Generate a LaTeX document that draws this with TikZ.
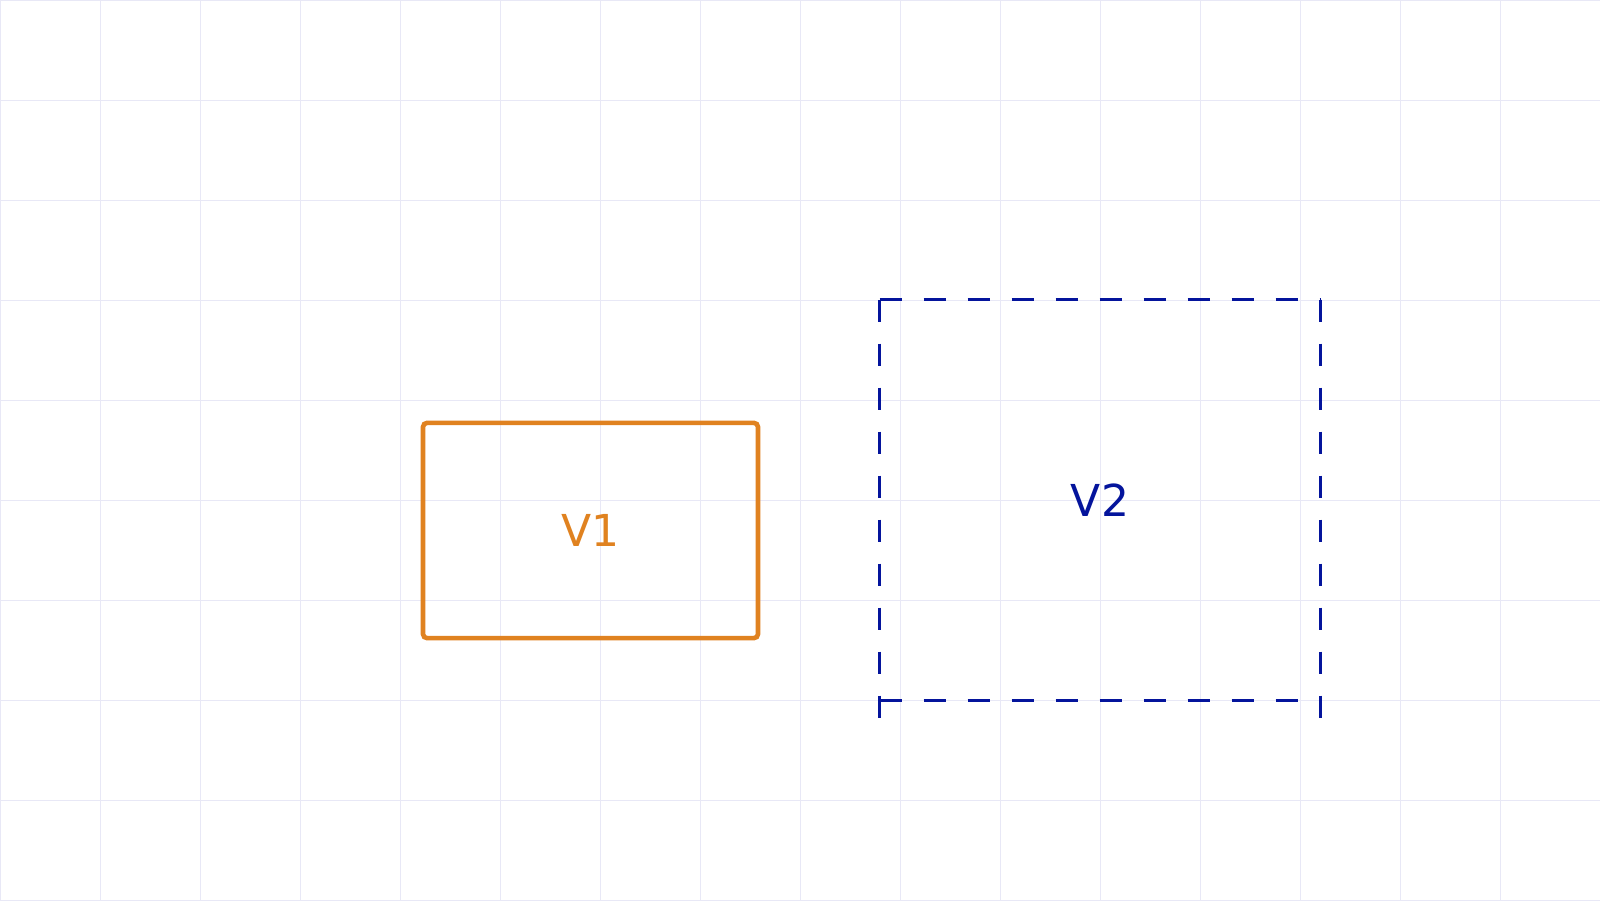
\documentclass[tikz,border=0pt]{standalone}
\usepackage{fontspec}
\setmainfont{DejaVu Sans}
\definecolor{gridc}{RGB}{232,232,246}
\definecolor{orng}{RGB}{224,130,32}
\definecolor{navy}{RGB}{4,20,156}
\begin{document}
\begin{tikzpicture}[x=0.5pt,y=-0.5pt,
  gridline/.style={draw=gridc,line width=0.5pt},
  solidbox/.style={draw=orng,line width=2.3pt,rounded corners=2pt,minimum width=167.5pt,minimum height=107.6pt,inner sep=0pt},
  ghostbox/.style={minimum width=220pt,minimum height=200pt,inner sep=0pt},
  dashline/.style={draw=navy,line width=1.6pt,dash pattern=on 11.2pt off 10.8pt},
  lbl/.style={font=\fontsize{22pt}{26pt}\selectfont}]
\useasboundingbox (0,0) rectangle (1600,900);
\fill[white] (0,0) rectangle (1600,900);
\foreach \i in {0,100,...,1600} \draw[gridline] (\i,0) -- (\i,900);
\foreach \j in {0,100,...,900} \draw[gridline] (0,\j) -- (1600,\j);
\node[solidbox,text=orng,lbl] (v1) at (590.5,530.5) {V1};
\node[ghostbox,text=navy,lbl] (v2) at (1100,500) {V2};
\coordinate (v2bl) at ([yshift=-9.5pt]v2.south west);
\coordinate (v2br) at ([yshift=-9.5pt]v2.south east);
\draw[dashline] (v2.north west) -- (v2.north east);
\draw[dashline] (v2.south west) -- (v2.south east);
\draw[dashline] (v2.north west) -- (v2bl);
\draw[dashline] (v2.north east) -- (v2br);
\end{tikzpicture}
\end{document}
